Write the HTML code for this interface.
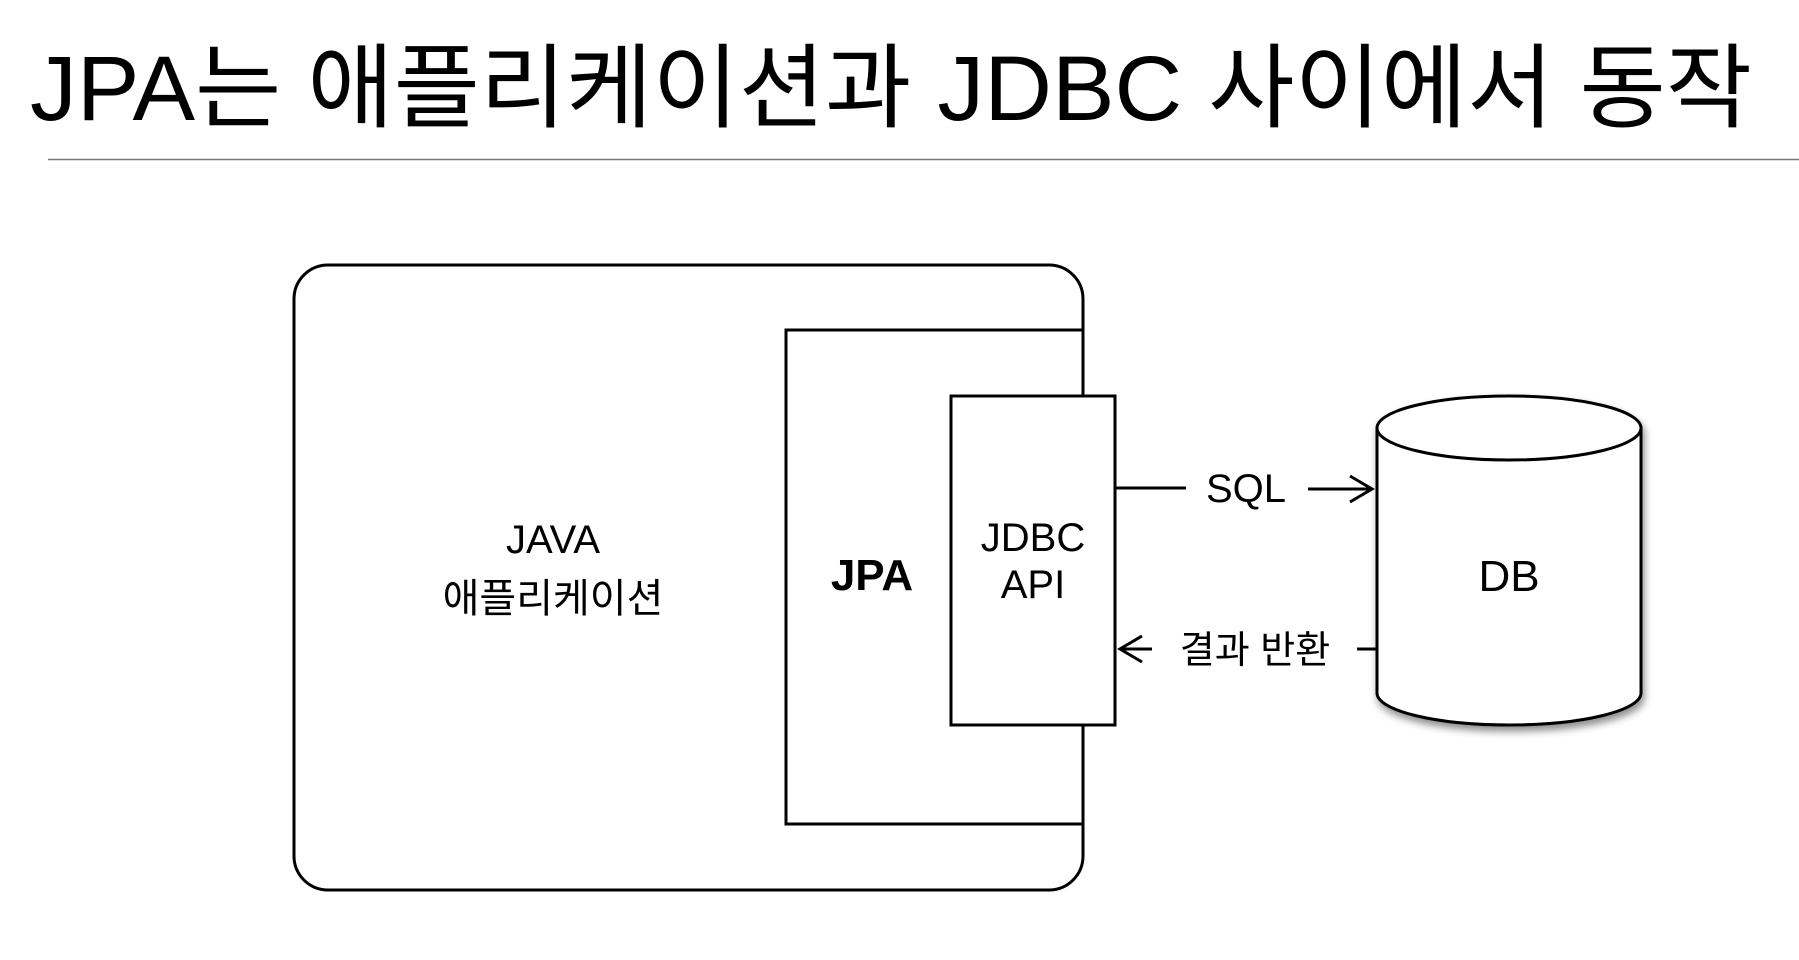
<!DOCTYPE html>
<html><head><meta charset="utf-8"><style>
body{margin:0;background:#fff;width:1799px;height:955px;overflow:hidden}
</style></head><body>
<svg width="1799" height="955" viewBox="0 0 1799 955" xmlns="http://www.w3.org/2000/svg" font-family="'Liberation Sans','Noto Sans CJK KR',sans-serif">
<defs><filter id="sh" x="-20%" y="-20%" width="140%" height="140%"><feDropShadow dx="2" dy="5" stdDeviation="4" flood-color="#000" flood-opacity="0.45"/></filter></defs>
<text x="30" y="120" font-size="92" fill="#000" textLength="1722" lengthAdjust="spacingAndGlyphs">JPA는 애플리케이션과 JDBC 사이에서 동작</text>
<line x1="48" y1="159.5" x2="1799" y2="159.5" stroke="#777" stroke-width="1.5"/>
<rect x="294" y="265" width="789" height="625" rx="34" fill="#fff" stroke="#000" stroke-width="3"/>
<rect x="786" y="330" width="297" height="494" fill="#fff" stroke="#000" stroke-width="3"/>
<rect x="951" y="396" width="164" height="329" fill="#fff" stroke="#000" stroke-width="3"/>
<text x="553" y="553" font-size="40" text-anchor="middle" font-weight="300">JAVA</text>
<text x="553" y="612" font-size="40" text-anchor="middle">애플리케이션</text>
<text x="872" y="590" font-size="44" font-weight="bold" text-anchor="middle">JPA</text>
<text x="1033" y="551" font-size="40" text-anchor="middle">JDBC</text>
<text x="1033" y="598" font-size="40" text-anchor="middle">API</text>
<line x1="1115" y1="488" x2="1186" y2="488" stroke="#000" stroke-width="3"/>
<text x="1246" y="502" font-size="40" text-anchor="middle">SQL</text>
<line x1="1308" y1="489" x2="1372" y2="489" stroke="#000" stroke-width="3"/>
<polyline points="1350,476 1372,489 1350,502" fill="none" stroke="#000" stroke-width="3"/>
<polyline points="1142,636 1120,649 1142,662" fill="none" stroke="#000" stroke-width="3"/>
<line x1="1120" y1="649" x2="1152" y2="649" stroke="#000" stroke-width="3"/>
<text x="1255" y="663" font-size="38" text-anchor="middle">결과 반환</text>
<line x1="1357" y1="649" x2="1377" y2="649" stroke="#000" stroke-width="3"/>
<g filter="url(#sh)">
<path d="M1377,428 A132,32 0 0 1 1641,428 L1641,693 A132,32 0 0 1 1377,693 Z" fill="#fff" stroke="#000" stroke-width="3"/>
</g>
<path d="M1377,428 A132,32 0 0 0 1641,428" fill="none" stroke="#000" stroke-width="3"/>
<text x="1509" y="591" font-size="44" text-anchor="middle">DB</text>
</svg>
</body></html>
